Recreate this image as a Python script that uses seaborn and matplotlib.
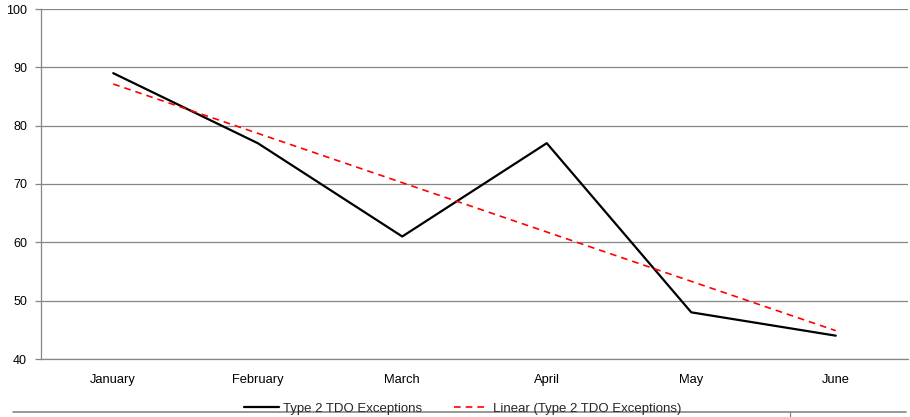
import numpy as np
import pandas as pd
import matplotlib
matplotlib.use("Agg")
import matplotlib.pyplot as plt
import seaborn as sns
from matplotlib.lines import Line2D

months = ["January", "February", "March", "April", "May", "June"]
exceptions = [89, 77, 61, 77, 48, 44]
y_ticks = [40, 50, 60, 70, 80, 90, 100]
series_name = "Type 2 TDO Exceptions"
trend_name = "Linear (Type 2 TDO Exceptions)"

sns.set_theme(style="white")
plt.rcParams["font.family"] = ["Liberation Sans", "DejaVu Sans"]

df = pd.DataFrame({"month": months, "value": exceptions, "pos": np.arange(len(months))})
slope, intercept = np.polyfit(df["pos"], df["value"], 1)
df["trend"] = intercept + slope * df["pos"]

fig = plt.figure(figsize=(9.10, 4.17), dpi=100)
ax = fig.add_axes([41 / 910, 1 - 359 / 417, 867 / 910, 350 / 417])

grey = "#868686"
for t in y_ticks:
    ax.axhline(t, color=grey, lw=0.9, zorder=0)

sns.lineplot(data=df, x="pos", y="value", ax=ax, color="black", lw=1.6, zorder=3)
sns.lineplot(data=df, x="pos", y="trend", ax=ax, color="#ff0000", lw=1.2,
             linestyle=(0, (4, 3)), zorder=4)

ax.set_xlim(-0.5, len(months) - 0.5)
ax.set_ylim(40, 100)
ax.set_yticks(y_ticks)
ax.set_yticklabels([str(t) for t in y_ticks], fontsize=9, color="black")
ax.set_xticks(np.arange(len(months)))
ax.set_xticklabels(months, fontsize=9.3, color="black")
ax.tick_params(axis="x", length=0, pad=11)
ax.set_xticks(np.arange(-0.5, len(months)), minor=True)
ax.tick_params(axis="x", which="minor", length=4, color=grey, width=0.9, direction="out")
ax.tick_params(axis="y", length=4, color=grey, width=0.9, direction="out", pad=6, left=True)
ax.set_xlabel("")
ax.set_ylabel("")
for side in ["top", "right"]:
    ax.spines[side].set_visible(False)
for side in ["left", "bottom"]:
    ax.spines[side].set_color(grey)
    ax.spines[side].set_linewidth(0.9)

# rule under the legend
fig.add_artist(Line2D([13 / 910, 906 / 910], [1 - 411.5 / 417] * 2, color=grey, lw=1.2))
fig.add_artist(Line2D([790 / 910, 790 / 910], [1 - 411.5 / 417, 0], color=grey, lw=0.9))

handles = [Line2D([], [], color="black", lw=1.6),
           Line2D([], [], color="#ff0000", lw=1.2, linestyle=(0, (4, 3)))]
fig.legend(handles, [series_name, trend_name], loc="center",
           bbox_to_anchor=(463 / 910, 1 - 408.5 / 417), ncol=2, frameon=False,
           fontsize=9.5, handlelength=2.6, handletextpad=0.35, columnspacing=2.4,
           borderpad=0, borderaxespad=0)

fig.savefig("out.png", dpi=100)
